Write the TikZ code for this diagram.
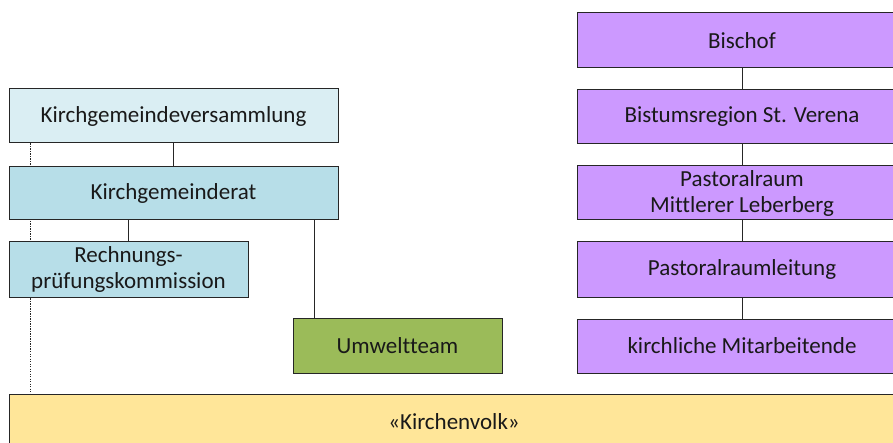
\documentclass[tikz,border=0pt]{standalone}
\usepackage{fontspec}
\setmainfont{Carlito}[Ligatures=NoCommon]
\usetikzlibrary{backgrounds}

\definecolor{versammlung}{HTML}{DAEEF3}
\definecolor{rat}{HTML}{B7DEE8}
\definecolor{umwelt}{HTML}{9BBB59}
\definecolor{bistum}{HTML}{CC99FF}
\definecolor{volk}{HTML}{FFE699}

\tikzset{
  orgbox/.style={draw=black!85, line width=1pt, inner sep=0pt, align=center,
    text=black!90, font=\fontsize{23}{26}\selectfont},
  link/.style={draw=black!85, line width=1pt}
}

\begin{document}
\begin{tikzpicture}[x=1pt, y=-1pt]
    \useasboundingbox (0,0) rectangle (893,443);
    \clip (0,0) rectangle (893,443);

    % Kirchgemeinde (left side)
    \node[orgbox, fill=versammlung, minimum width=329pt, minimum height=54pt] (kgv) at (173.5,116) {Kirchgemeindeversammlung};
    \node[orgbox, fill=rat, minimum width=329pt, minimum height=53pt] (kgr) at (173.5,193.5) {Kirchgemeinderat};
    \node[orgbox, fill=rat, minimum width=239pt, minimum height=55pt] (rpk) at (128.5,269.5) {Rechnungs-\\prüfungskommission};
    \node[orgbox, fill=umwelt, minimum width=209pt, minimum height=55pt] (team) at (397.5,345.5) {Umweltteam};

    % Bistum (right side)
    \node[orgbox, fill=bistum, minimum width=330pt, minimum height=55pt] (bischof) at (742,40.5) {Bischof};
    \node[orgbox, fill=bistum, minimum width=330pt, minimum height=54pt] (region) at (742,117) {Bistumsregion St. Verena};
    \node[orgbox, fill=bistum, minimum width=330pt, minimum height=54pt] (raum) at (742,193) {Pastoralraum\\Mittlerer Leberberg};
    \node[orgbox, fill=bistum, minimum width=330pt, minimum height=55pt] (leitung) at (742,269.5) {Pastoralraumleitung};
    \node[orgbox, fill=bistum, minimum width=330pt, minimum height=54pt] (mitarb) at (742,346) {kirchliche Mitarbeitende};

    % Kirchenvolk
    \node[orgbox, fill=volk, minimum width=890pt, minimum height=56pt] (volk) at (454,422) {«Kirchenvolk»};

    % Connectors
    \draw[link] (kgv.south) -- (kgr.north);
    \draw[link] (rpk.north) -- (rpk.north |- kgr.south);
    \coordinate (teamtop) at ([xshift=22pt]team.north west);
    \draw[link] (teamtop) -- (teamtop |- kgr.south);
    \foreach \a/\b in {bischof/region, region/raum, raum/leitung, leitung/mitarb}
        \draw[link] (\a.south) -- (\b.north);

    % Dotted line behind the boxes
    \begin{scope}[on background layer]
        \coordinate (dottop) at ([xshift=22pt]kgv.south west);
        \draw[black!85, line width=1.2pt, dash pattern=on 1.2pt off 1.3pt] (dottop) -- (dottop |- volk.north);
    \end{scope}
\end{tikzpicture}
\end{document}
